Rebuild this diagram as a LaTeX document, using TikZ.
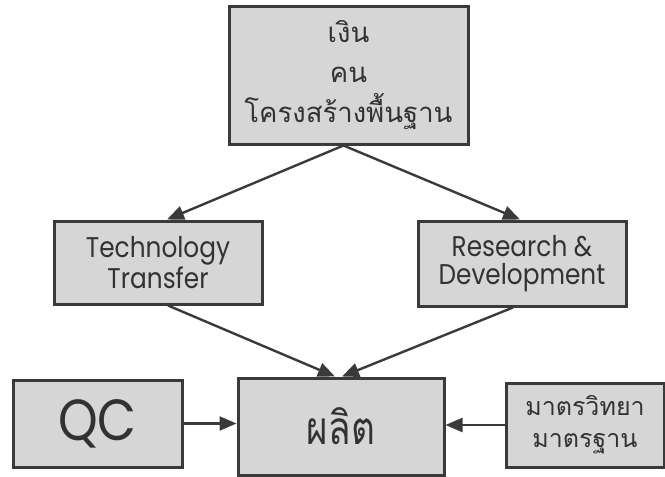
\documentclass[tikz,border=0pt]{standalone}
\usepackage{fontspec}
\usetikzlibrary{arrows.meta}
\newfontfamily\thaifont[Script=Thai]{Loma}
\newfontfamily\thainarrow[Script=Thai,FakeStretch=0.8]{Loma}
\newfontfamily\gothic[FakeStretch=0.87]{Poppins}
\definecolor{boxgray}{RGB}{214,214,214}
\definecolor{edgegray}{RGB}{58,58,58}
\definecolor{inkgray}{RGB}{50,50,50}

\begin{document}
\begin{tikzpicture}[x=1pt, y=-1pt,
      block/.style={draw=edgegray, fill=boxgray, line width=3pt, rectangle, align=center, text=inkgray, inner sep=0pt}, % Bloques grises
      thai/.style={font=\thaifont\fontsize{27.5}{40}\selectfont},
      latin/.style={font=\gothic\fontsize{28.5}{28}\selectfont},
      link/.style={draw=edgegray, line width=2.4pt, -{Triangle[length=17pt,width=14pt]}}
    ]
    \useasboundingbox (0,0) rectangle (665,477);
    % Resources
    \node [block, thai, minimum width=239pt, minimum height=138pt] (res) at (348.5,75) {เงิน\\คน\\โครงสร้างพื้นฐาน};
    % Second level
    \node [block, latin, minimum width=208pt, minimum height=83pt] (tt) at (158,262.5) {Technology\\Transfer};
    \node [block, latin, minimum width=208pt, minimum height=85pt] (rd) at (522,263.5) {Research \&\\Development};
    % Bottom row
    \node [block, font=\gothic\fontsize{58}{60}\selectfont, minimum width=169pt, minimum height=87pt] (qc) at (97.5,423.5) {QC};
    \node [block, font=\thainarrow\fontsize{46}{52}\selectfont, minimum width=206pt, minimum height=97pt] (prod) at (341,426.5) {ผลิต};
    \node [block, font=\thaifont\fontsize{25}{32}\selectfont, minimum width=158pt, minimum height=84pt] (std) at (585,425) {มาตรวิทยา\\มาตรฐาน};
    % Arrows
    \draw [link] ([xshift=-5pt]res.south) -- ([xshift=9pt]tt.north);
    \draw [link] ([xshift=-5pt]res.south) -- ([xshift=-2pt]rd.north);
    \draw [link] ([xshift=10pt]tt.south) -- ([xshift=-6pt]prod.north);
    \draw [link] ([xshift=-9pt]rd.south) -- ([xshift=1pt]prod.north);
    \draw [link] (qc.east) -- (qc.east -| prod.west);
    \draw [link] (std.west) -- (std.west -| prod.east);
\end{tikzpicture}
\end{document}
